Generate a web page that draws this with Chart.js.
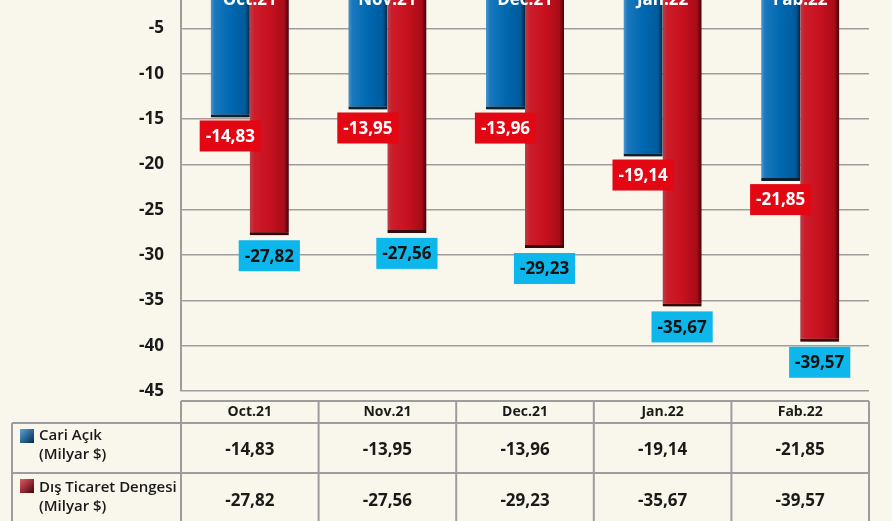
<!DOCTYPE html>
<html>
<head>
<meta charset="utf-8">
<script src="https://cdn.jsdelivr.net/npm/chart.js@4.4.1/dist/chart.umd.min.js"></script>
<style>
  html, body { margin: 0; padding: 0; background: #f9f6ec; overflow: hidden; }
  #wrap { position: absolute; left: 0; top: -17px; width: 892px; height: 560px; }
</style>
</head>
<body>
<div id="wrap"><canvas id="grafik" width="892" height="560"></canvas></div>
<script>
// Datos
const categories = ['Oct.21', 'Nov.21', 'Dec.21', 'Jan.22', 'Fab.22'];
const cariAcik = [-14.83, -13.95, -13.96, -19.14, -21.85];
const disTicaret = [-27.82, -27.56, -29.23, -35.67, -39.57];
const seriesNames = ['Cari Açık', 'Dış Ticaret Dengesi'];
const unitLabel = '(Milyar $)';
const yMin = -45, yMax = 0, yStep = 5;

const OFF = 17; // el lienzo empieza 17px por encima de la página
const CAT_PCT = 0.567;
const FONT = '"Open Sans", "DejaVu Sans", sans-serif';

const fmt = v => v.toFixed(2).replace('.', ',');

// Degradado horizontal para cada barra, a partir de la escala x
function barGradient(context, stops, fallback) {
    const chart = context.chart;
    const xs = chart.scales.x;
    if (!chart.chartArea || !xs) return fallback;
    const cw = xs.width / categories.length;
    const bw = cw * CAT_PCT / 2;
    const cx = xs.getPixelForValue(context.dataIndex) + (context.datasetIndex === 0 ? -bw / 2 : bw / 2);
    const g = chart.ctx.createLinearGradient(cx - bw / 2, 0, cx + bw / 2, 0);
    stops.forEach(s => g.addColorStop(s[0], s[1]));
    return g;
}

const blueStops = [[0, '#4a97d0'], [0.1, '#1a78bd'], [0.5, '#0068b0'], [0.88, '#005b9c'], [1, '#00294a']];
const redStops = [[0, '#b8404a'], [0.12, '#cc1c2a'], [0.5, '#c8111f'], [0.88, '#a80c18'], [1, '#45000a']];

// Sombra de las barras
const shadowPlugin = {
    id: 'sombra',
    beforeDatasetDraw(chart) {
        const ctx = chart.ctx;
        ctx.save();
        ctx.shadowColor = 'rgba(40,30,20,0.6)';
        ctx.shadowBlur = 11;
        ctx.shadowOffsetX = 2;
        ctx.shadowOffsetY = 3;
    },
    afterDatasetDraw(chart) {
        chart.ctx.restore();
    }
};

// Etiquetas de valores y nombres de categoría
const labelsPlugin = {
    id: 'etiquetas',
    afterDatasetsDraw(chart) {
        const ctx = chart.ctx;
        const xs = chart.scales.x;
        ctx.save();
        ctx.textAlign = 'center';

        // nombres de mes arriba, dentro de las barras
        ctx.font = 'bold 17px ' + FONT;
        ctx.fillStyle = '#ffffff';
        ctx.textBaseline = 'alphabetic';
        categories.forEach((c, i) => {
            ctx.fillText(c, xs.getPixelForValue(i), 22);
        });

        ctx.textBaseline = 'middle';
        chart.data.datasets.forEach((ds, di) => {
            const meta = chart.getDatasetMeta(di);
            meta.data.forEach((bar, i) => {
                const txt = fmt(ds.data[i]);
                const w = ctx.measureText(txt).width + 12;
                const h = 31;
                const top = bar.y + (di === 0 ? 3 : 5);
                ctx.fillStyle = di === 0 ? '#e30613' : '#0db6eb';
                ctx.fillRect(bar.x - w / 2, top, w, h);
                ctx.fillStyle = di === 0 ? '#ffffff' : '#111111';
                ctx.fillText(txt, bar.x, top + h / 2 + 1);
            });
        });
        ctx.restore();
    }
};

// Tabla de datos debajo del gráfico
const tablePlugin = {
    id: 'tabla',
    afterDraw(chart) {
        const ctx = chart.ctx;
        const xs = chart.scales.x;
        const cw = xs.width / categories.length;
        const left = xs.left, right = xs.right;
        const yHead = 401 + OFF, yR1 = 423 + OFF, yR2 = 473 + OFF, yEnd = chart.height;
        const xLeg = 12;

        ctx.save();
        ctx.strokeStyle = '#9d9d9d';
        ctx.lineWidth = 2;
        ctx.beginPath();
        ctx.moveTo(left, yHead); ctx.lineTo(right, yHead);
        ctx.moveTo(xLeg, yR1); ctx.lineTo(right, yR1);
        ctx.moveTo(xLeg, yR2); ctx.lineTo(right, yR2);
        ctx.moveTo(xLeg, yR1); ctx.lineTo(xLeg, yEnd);
        for (let i = 0; i <= categories.length; i++) {
            const x = left + i * cw;
            ctx.moveTo(x, yHead); ctx.lineTo(x, yEnd);
        }
        ctx.stroke();

        ctx.textAlign = 'center';
        ctx.textBaseline = 'middle';
        ctx.fillStyle = '#1a1a1a';
        ctx.font = 'bold 14px ' + FONT;
        categories.forEach((c, i) => ctx.fillText(c, xs.getPixelForValue(i), 412 + OFF));

        ctx.font = 'bold 17px ' + FONT;
        cariAcik.forEach((v, i) => ctx.fillText(fmt(v), xs.getPixelForValue(i), 450 + OFF));
        disTicaret.forEach((v, i) => ctx.fillText(fmt(v), xs.getPixelForValue(i), 501 + OFF));

        // leyenda
        const squares = [
            { y: 429 + OFF, c1: '#5aa3da', c2: '#002a4c' },
            { y: 479 + OFF, c1: '#e25a66', c2: '#4a0008' }
        ];
        squares.forEach(s => {
            const g = ctx.createLinearGradient(20, s.y, 34, s.y + 14);
            g.addColorStop(0, s.c1);
            g.addColorStop(1, s.c2);
            ctx.fillStyle = g;
            ctx.fillRect(20, s.y, 14, 14);
        });

        ctx.textAlign = 'left';
        ctx.fillStyle = '#1a1a1a';
        ctx.font = '600 15px ' + FONT;
        ctx.fillText(seriesNames[0], 39, 436 + OFF);
        ctx.fillText(unitLabel, 39, 455 + OFF);
        ctx.fillText(seriesNames[1], 39, 488 + OFF);
        ctx.fillText(unitLabel, 39, 507 + OFF);
        ctx.restore();
    }
};

document.addEventListener('DOMContentLoaded', function() {
    const ctx = document.getElementById('grafik');
    new Chart(ctx.getContext('2d'), {
        type: 'bar',
        data: {
            labels: categories,
            datasets: [{
                label: seriesNames[0],
                data: cariAcik,
                backgroundColor: c => barGradient(c, blueStops, '#0068b0'),
                borderColor: '#00223d',
                borderWidth: { top: 0, left: 0, right: 0, bottom: 3 },
                borderSkipped: false
            }, {
                label: seriesNames[1],
                data: disTicaret,
                backgroundColor: c => barGradient(c, redStops, '#c8111f'),
                borderColor: '#3f0006',
                borderWidth: { top: 0, left: 0, right: 0, bottom: 3 },
                borderSkipped: false
            }]
        },
        options: {
            responsive: false,
            animation: false,
            devicePixelRatio: 1,
            categoryPercentage: CAT_PCT,
            barPercentage: 1,
            layout: { padding: { top: 0, right: 23, bottom: 152, left: 0 } },
            plugins: {
                legend: { display: false },
                tooltip: { enabled: false }
            },
            scales: {
                x: { display: false },
                y: {
                    min: yMin,
                    max: yMax,
                    afterFit: scale => {
                        // ancho fijo y sin relleno vertical para que el 0 quede fuera del lienzo
                        scale.width = 181;
                        scale.paddingTop = 0;
                        scale.paddingBottom = 0;
                    },
                    ticks: {
                        stepSize: yStep,
                        padding: 17,
                        color: '#1a1a1a',
                        font: { family: FONT, size: 17, weight: 'bold' },
                        callback: v => (v === 0 ? null : v)
                    },
                    grid: { color: '#9d9d9d', lineWidth: 1.5, drawTicks: false },
                    border: { display: true, color: '#9d9d9d', width: 2 }
                }
            }
        },
        plugins: [shadowPlugin, labelsPlugin, tablePlugin]
    });
});
</script>
</body>
</html>
